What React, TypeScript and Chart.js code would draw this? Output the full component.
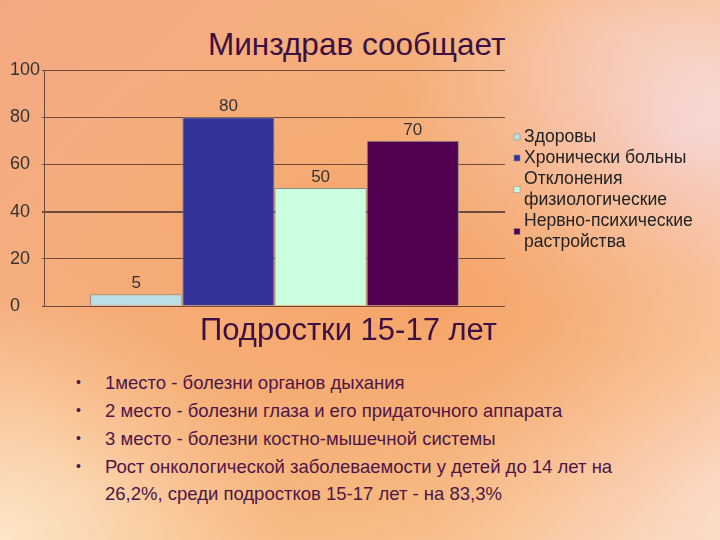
import React, { useEffect, useRef } from "react";
import { Chart, registerables } from "chart.js";

Chart.register(...registerables);

const categories = ["Подростки 15-17 лет"];
const seriesNames = ["Здоровы", "Хронически больны", "Отклонения физиологические", "Нервно-психические растройства"];
const legendLines = [["Здоровы"], ["Хронически больны"], ["Отклонения", "физиологические"], ["Нервно-психические", "растройства"]];
const values = [5, 80, 50, 70];
const colors = ["#b9e0e6", "#333399", "#ccffe0", "#520050"];
const yTicks = [0, 20, 40, 60, 80, 100];
const bullets = [
  "1место - болезни органов дыхания",
  "2 место - болезни глаза и его придаточного аппарата",
  "3 место - болезни костно-мышечной системы",
  "Рост онкологической заболеваемости у детей до 14 лет на 26,2%, среди подростков 15-17 лет - на 83,3%",
];

const FONT = "Arial, 'Liberation Sans', sans-serif";

const valueLabels = {
  id: "valueLabels",
  afterDatasetsDraw(chart: any) {
    const ctx = chart.ctx;
    ctx.save();
    ctx.font = `17px ${FONT}`;
    ctx.fillStyle = "#333333";
    ctx.textAlign = "center";
    ctx.textBaseline = "bottom";
    chart.data.datasets.forEach((ds: any, i: number) => {
      const meta = chart.getDatasetMeta(i);
      meta.data.forEach((el: any, j: number) => {
        ctx.fillText(String(ds.data[j]), el.x, el.y - 2);
      });
    });
    ctx.restore();
  },
};

const sideLegend = {
  id: "sideLegend",
  afterDraw(chart: any) {
    const ctx = chart.ctx;
    ctx.save();
    ctx.font = `17.6px ${FONT}`;
    ctx.textBaseline = "middle";
    ctx.textAlign = "left";
    const x = 514;
    let y = 82;
    const lh = 21;
    chart.data.datasets.forEach((ds: any, i: number) => {
      const lines = legendLines[i];
      const mid = y + ((lines.length - 1) * lh) / 2;
      ctx.fillStyle = ds.backgroundColor;
      ctx.fillRect(x, mid - 3, 6, 6);
      ctx.strokeStyle = "#888";
      ctx.lineWidth = 0.5;
      ctx.strokeRect(x, mid - 3, 6, 6);
      ctx.fillStyle = "#222222";
      lines.forEach((ln: string, k: number) => {
        ctx.fillText(ln, x + 10, y + k * lh);
      });
      y += lines.length * lh;
    });
    ctx.restore();
  },
};

function BarChart() {
  const ref = useRef<HTMLCanvasElement>(null);
  useEffect(() => {
    if (!ref.current) return;
    const chart = new Chart(ref.current, {
      type: "bar",
      data: {
        labels: categories,
        datasets: seriesNames.map((name, i) => ({
          label: name,
          data: [values[i]],
          backgroundColor: colors[i],
          borderColor: "#8a8a8a",
          borderWidth: 1,
          categoryPercentage: 0.8,
          barPercentage: 1,
        })),
      },
      options: {
        responsive: false,
        animation: false,
        layout: { padding: { left: 10, right: 215, top: 15, bottom: 6 } },
        plugins: { legend: { display: false }, title: { display: false }, tooltip: { enabled: false } },
        scales: {
          x: {
            ticks: { display: false },
            grid: { display: false },
            border: { display: false },
          },
          y: {
            min: 0,
            max: 100,
            afterBuildTicks: (axis: any) => {
              axis.ticks = yTicks.map((v) => ({ value: v }));
            },
            ticks: {
              crossAlign: "far",
              color: "#333333",
              font: { family: FONT, size: 18 },
              padding: 1,
            },
            grid: {
              color: "#6e4a3a",
              lineWidth: (c: any) => (c.tick && c.tick.value === 40 ? 2 : 1),
              tickLength: 2,
            },
            border: { display: true, color: "#6e4a3a", width: 1 },
          },
        },
      },
      plugins: [valueLabels, sideLegend],
    });
    return () => chart.destroy();
  }, []);
  return <canvas ref={ref} width={720} height={265} style={{ display: "block" }} />;
}

export default function App() {
  return (
    <div
      style={{
        position: "fixed",
        left: 0,
        top: 0,
        width: 720,
        height: 540,
        overflow: "hidden",
        fontFamily: FONT,
        background:
          "radial-gradient(ellipse 60% 55% at 60% 55%, rgba(245,160,100,0.85), rgba(245,160,100,0) 100%)," +
          "radial-gradient(ellipse 40% 40% at 95% 25%, rgba(248,222,232,1), rgba(248,222,232,0) 100%)," +
          "radial-gradient(ellipse 40% 45% at 0% 100%, rgba(253,230,200,1), rgba(253,230,200,0) 100%)," +
          "radial-gradient(ellipse 40% 40% at 100% 90%, rgba(252,220,200,1), rgba(252,220,200,0) 100%)," +
          "linear-gradient(135deg, #f4a882 0%, #f6b27c 40%, #f7c08a 70%, #f9d3b0 100%)",
      }}
    >
      <div
        style={{
          position: "absolute",
          left: 208,
          top: 26,
          fontSize: 31.5,
          color: "#3c1042",
          whiteSpace: "nowrap",
        }}
      >
        Минздрав сообщает
      </div>
      <div style={{ position: "absolute", left: 0, top: 55, width: 720, height: 265 }}>
        <BarChart />
      </div>
      <div
        style={{
          position: "absolute",
          left: 200,
          top: 312,
          fontSize: 31,
          color: "#3c1042",
          whiteSpace: "nowrap",
        }}
      >
        Подростки 15-17 лет
      </div>
      <ul
        style={{
          position: "absolute",
          left: 76,
          top: 369,
          width: 565,
          margin: 0,
          padding: 0,
          listStyle: "none",
          fontSize: 18.5,
          lineHeight: "27px",
          color: "#4e1648",
        }}
      >
        {bullets.map((b, i) => (
          <li key={i} style={{ position: "relative", paddingLeft: 29, marginBottom: 1 }}>
            <span style={{ position: "absolute", left: 0, top: 0, fontSize: 14 }}>•</span>
            {b}
          </li>
        ))}
      </ul>
    </div>
  );
}
